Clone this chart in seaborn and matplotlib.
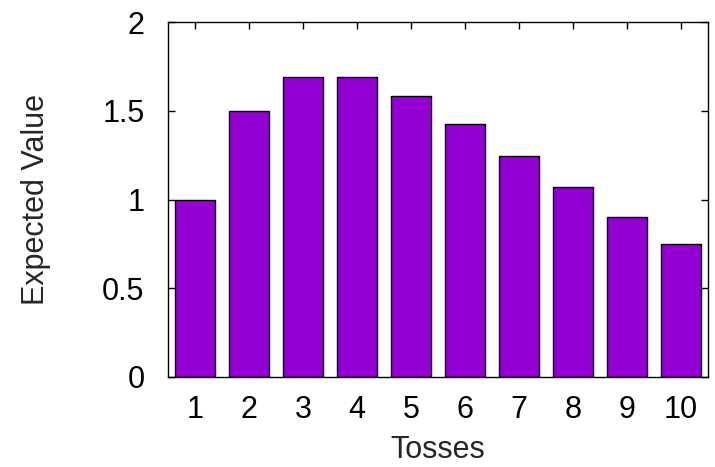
import matplotlib
matplotlib.use("Agg")
import matplotlib.pyplot as plt
import seaborn as sns
import pandas as pd

tosses = ["1", "2", "3", "4", "5", "6", "7", "8", "9", "10"]
expected = [1.0, 1.5, 1.6875, 1.6875, 1.582, 1.424, 1.246, 1.068, 0.901, 0.751]
yticks = [0, 0.5, 1, 1.5, 2]
ytick_labels = ["0", "0.5", "1", "1.5", "2"]

sns.set_style("ticks")
plt.rcParams["font.family"] = ["Liberation Sans", "DejaVu Sans"]

df = pd.DataFrame({"Tosses": tosses, "Expected Value": expected})

fig = plt.figure(figsize=(7.15, 4.67), dpi=100)
ax = fig.add_axes([168 / 715, 1 - 377 / 467, (708 - 168) / 715, (377 - 22) / 467])
sns.barplot(data=df, x="Tosses", y="Expected Value", color="#9400D3",
            saturation=1, edgecolor="black", linewidth=1.0, width=0.755, ax=ax)

ax.set_xlim(-0.5, 9.5)
ax.set_ylim(0, 2)
ax.set_yticks(yticks)
ax.set_yticklabels(ytick_labels)
for s in ax.spines.values():
    s.set_visible(True)
    s.set_linewidth(1.0)
    s.set_color("black")
ax.tick_params(direction="in", length=5, width=1, top=True, right=True,
               labelsize=22, colors="black")
ax.tick_params(axis="x", pad=13)
ax.tick_params(axis="y", pad=17)
ax.set_xlabel("Tosses", fontsize=22, labelpad=7)
ax.set_ylabel("Expected Value", fontsize=22, labelpad=37)

fig.savefig("out.png", dpi=100)
